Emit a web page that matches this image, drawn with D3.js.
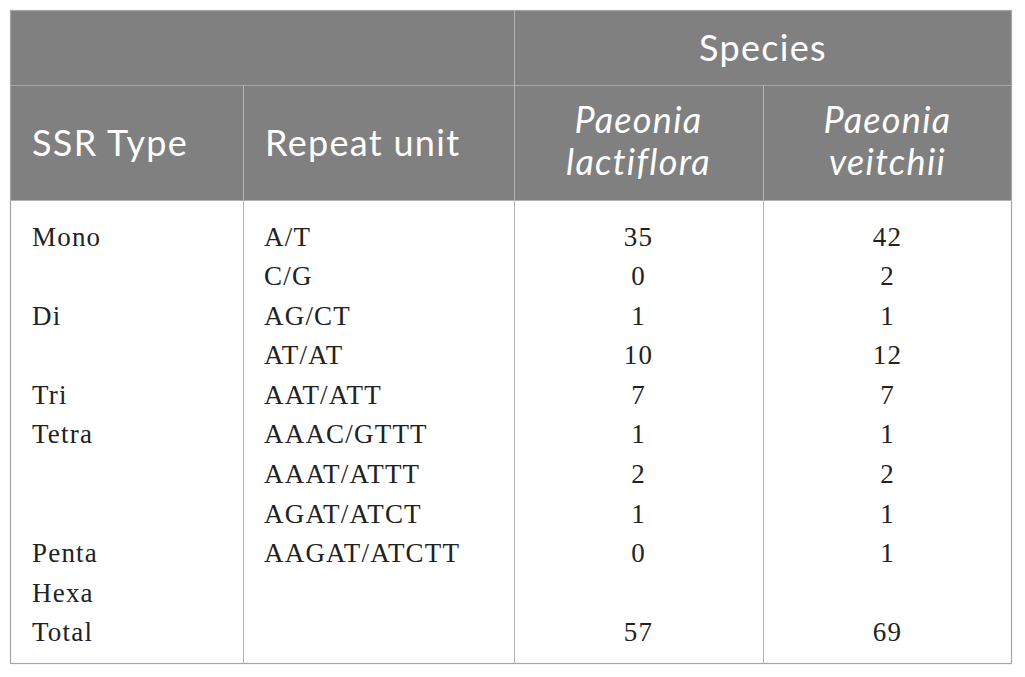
<!DOCTYPE html>
<html>
<head>
<meta charset="utf-8" />
<title>SSR types</title>
<script src="https://cdn.jsdelivr.net/npm/d3@7/dist/d3.min.js"></script>
<style>
  html, body { margin: 0; padding: 0; background: #fff; }
</style>
</head>
<body>
<script>
// table data
var ssrTypes = ['Mono', '', 'Di', '', 'Tri', 'Tetra', '', '', 'Penta', 'Hexa', 'Total'];
var repeatUnits = ['A/T', 'C/G', 'AG/CT', 'AT/AT', 'AAT/ATT', 'AAAC/GTTT', 'AAAT/ATTT', 'AGAT/ATCT', 'AAGAT/ATCTT', '', ''];
var lactiflora = [35, 0, 1, 10, 7, 1, 2, 1, 0, null, 57];
var veitchii = [42, 2, 1, 12, 7, 1, 2, 1, 1, null, 69];
var speciesNames = ['Paeonia\nlactiflora', 'Paeonia\nveitchii'];

var width = 1025, height = 677;
var svg = d3.select('body').append('svg').attr('width', width).attr('height', height);

var tLeft = 10, tRight = 1012, tTop = 10, tBottom = 664;
var h1 = 85, h2 = 200;
var colX = [tLeft, 243, 514, 763, tRight];

var y = d3.scaleBand().domain(d3.range(ssrTypes.length)).range([217, 652]);

var headFont = 'Lato, "Open Sans", sans-serif';
var bodyFont = '"Liberation Serif", "DejaVu Serif", serif';

// header background
svg.append('rect').attr('x', tLeft).attr('y', tTop).attr('width', tRight - tLeft).attr('height', h2 - tTop)
  .attr('fill', '#808080');

// outer border
svg.append('rect').attr('x', tLeft + 0.5).attr('y', tTop + 0.5).attr('width', tRight - tLeft - 1).attr('height', tBottom - tTop - 1)
  .attr('fill', 'none').attr('stroke', '#a6a6a6').attr('stroke-width', 1.2);

// header lines
svg.append('line').attr('x1', tLeft).attr('x2', tRight).attr('y1', h1 + 0.5).attr('y2', h1 + 0.5)
  .attr('stroke', '#a8a8a8');
svg.append('line').attr('x1', tLeft).attr('x2', tRight).attr('y1', h2 + 0.5).attr('y2', h2 + 0.5)
  .attr('stroke', '#b0b0b0');
svg.append('line').attr('x1', colX[2] + 0.5).attr('x2', colX[2] + 0.5).attr('y1', tTop).attr('y2', tBottom)
  .attr('stroke', '#b5b5b5');
[colX[1], colX[3]].forEach(function(x) {
  svg.append('line').attr('x1', x + 0.5).attr('x2', x + 0.5).attr('y1', h1).attr('y2', tBottom)
    .attr('stroke', '#b5b5b5');
});

// header text
var head = svg.append('g').attr('fill', '#fff')
  .style('font-family', headFont).style('font-size', '36px').style('letter-spacing', '1.3px');

head.append('text').attr('x', (colX[2] + colX[4]) / 2).attr('y', 61)
  .attr('text-anchor', 'middle').text('Species');
head.append('text').attr('x', 32).attr('y', 156).text('SSR Type');
head.append('text').attr('x', 265).attr('y', 156).text('Repeat unit');

speciesNames.forEach(function(name, i) {
  var cx = (colX[i + 2] + colX[i + 3]) / 2;
  var t = head.append('text').attr('text-anchor', 'middle').style('font-style', 'italic');
  name.split('\n').forEach(function(line, j) {
    t.append('tspan').attr('x', cx).attr('y', 133 + j * 42).text(line);
  });
});

// body
var rows = svg.append('g').selectAll('g').data(d3.range(ssrTypes.length)).enter().append('g')
  .attr('transform', function(d) { return 'translate(0,' + (y(d) + y.bandwidth() / 2) + ')'; })
  .style('font-family', bodyFont).style('font-size', '27px').style('letter-spacing', '1.2px').attr('fill', '#222');

rows.append('text').attr('x', 32).attr('dy', '0.33em').text(function(d) { return ssrTypes[d]; });
rows.append('text').attr('x', 264).attr('dy', '0.33em')
  .text(function(d) { return repeatUnits[d]; });
rows.append('text').attr('x', (colX[2] + colX[3]) / 2).attr('dy', '0.33em').attr('text-anchor', 'middle')
  .text(function(d) { return lactiflora[d] == null ? '' : lactiflora[d]; });
rows.append('text').attr('x', (colX[3] + colX[4]) / 2).attr('dy', '0.33em').attr('text-anchor', 'middle')
  .text(function(d) { return veitchii[d] == null ? '' : veitchii[d]; });
</script>
</body>
</html>
